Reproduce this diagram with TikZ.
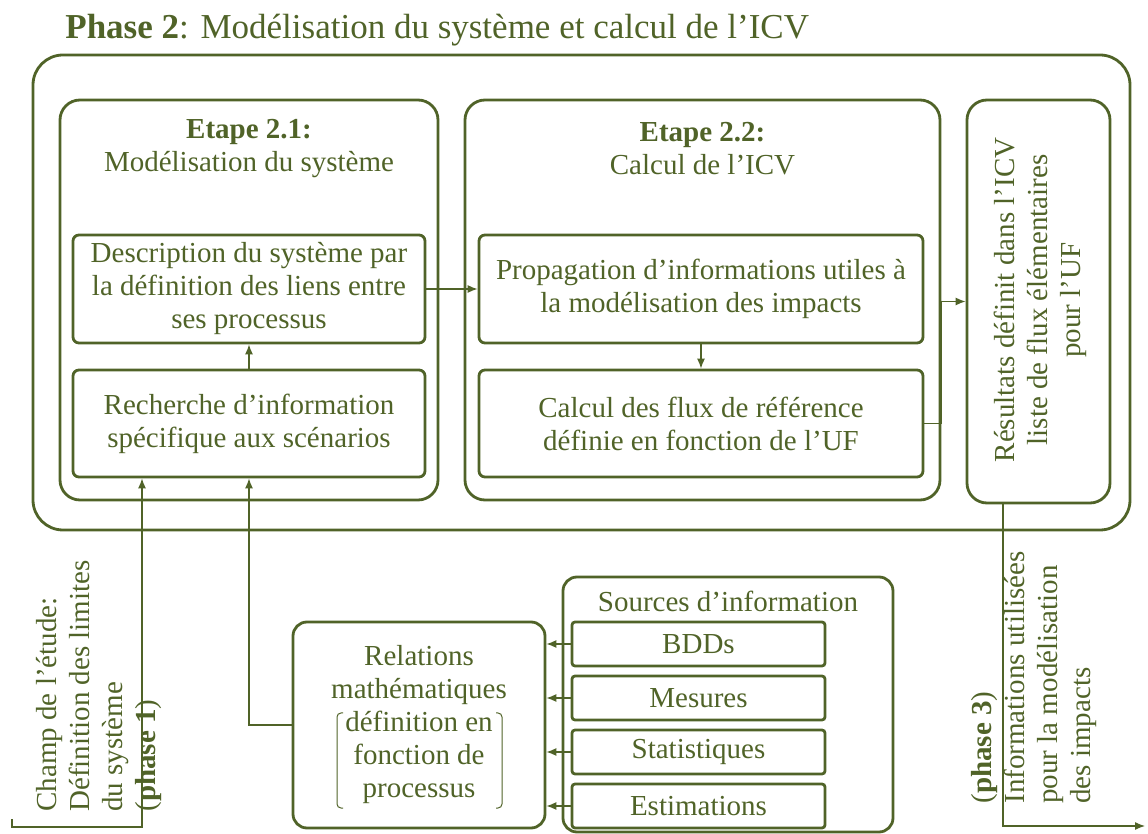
\documentclass[tikz,border=0pt]{standalone}
\usepackage{fontspec}
\setmainfont{Liberation Serif}
\usetikzlibrary{positioning,arrows.meta,calc}
\definecolor{phasegreen}{RGB}{80,99,40}
\newcommand{\boxsize}{\fontsize{14.5}{16.5}\selectfont}

\begin{document}
\begin{tikzpicture}[x=0.5pt,y=-0.5pt,
	box/.style={draw=phasegreen, line width=1.4pt, text=phasegreen, align=center, inner sep=0pt, font=\boxsize},
	bigbox/.style={box, rounded corners=10pt},
	smallbox/.style={box, rounded corners=3pt},
	srcbox/.style={box, rounded corners=1.5pt, minimum width=126.5pt, minimum height=22pt},
	label/.style={text=phasegreen, align=center, inner sep=0pt, font=\boxsize},
	arr/.style={draw=phasegreen, line width=0.6pt, -{Latex[length=5pt,width=4pt]}},
	bracket/.style={draw=phasegreen, line width=0.5pt, rounded corners=2pt}]
	\useasboundingbox (0,0) rectangle (1148,834);
	\node[label, anchor=base west, font=\fontsize{17.5}{20}\selectfont] (title) at (65,39) {\textbf{Phase 2}: Modélisation du système et calcul de l’ICV};
	\node[box, rounded corners=15pt, minimum width=548.5pt, minimum height=237.5pt] (phase) at (581.5,292.5) {};
	\node[bigbox, minimum width=189pt, minimum height=200pt] (etapeA) at (249,300) {};
	\node[label] (etapeAtitle) at (249,149) {\textbf{Etape 2.1:}\\Modélisation du système};
	\node[smallbox, minimum width=176pt, minimum height=54pt] (desc) at (249,289) {Description du système par\\la définition des liens entre\\ses processus};
	\node[smallbox, minimum width=176pt, minimum height=53.5pt] (rech) at (249,423.5) {Recherche d’information\\spécifique aux scénarios};
	\node[bigbox, minimum width=237.5pt, minimum height=200pt] (etapeB) at (702.5,300) {};
	\node[label] (etapeBtitle) at (702.5,149) {\textbf{Etape 2.2:}\\Calcul de l’ICV};
	\node[smallbox, minimum width=222pt, minimum height=54pt] (prop) at (701,289) {Propagation d’informations utiles à\\la modélisation des impacts};
	\node[smallbox, minimum width=222pt, minimum height=53.5pt] (flux) at (701,423.5) {Calcul des flux de référence\\définie en fonction de l’UF};
	\node[bigbox, minimum width=71.5pt, minimum height=201.5pt] (res) at (1038.5,301.5) {};
	\node[label, rotate=90] (restext) at (1040,300) {Résultats définit dans l’ICV\\liste de flux élémentaires\\pour l’UF};
	\node[box, rounded corners=7pt, minimum width=126pt, minimum height=103pt] (rel) at (419,725) {Relations\\mathématiques\\définition en\\fonction de\\processus};
	\draw[bracket] (343,713) -- (337,713) -- (337,808) -- (343,808);
	\draw[bracket] (496,713) -- (502,713) -- (502,808) -- (496,808);
	\node[box, rounded corners=7pt, minimum width=165pt, minimum height=127.5pt] (src) at (728,704.5) {};
	\node[label] (srctitle) at (728,601) {Sources d’information};
	\node[srcbox] (bdd) at (698.5,644) {BDDs};
	\node[srcbox] (mes) at (698.5,698) {Mesures};
	\node[srcbox] (stat) at (698.5,752) {Statistiques};
	\node[srcbox] (est) at (698.5,806) {Estimations};
	\node[label, rotate=90, anchor=west, align=left] (ph1text) at (99,812) {Champ de l’étude:\\Définition des limites\\du système\\(\textbf{phase 1})};
	\node[label, rotate=90, anchor=west, align=left] (ph3text) at (1034,804) {(\textbf{phase 3})\\Informations utilisées\\pour la modélisation\\des impacts};
	\coordinate (ph1) at (12,819);
	\coordinate (ph3) at (1145,826);
	\draw[arr] (rech) -- (desc);
	\draw[arr] (desc) -- (prop);
	\draw[arr] (prop) -- (flux);
	\draw[arr] (flux.east) -- ++(17,0) |- (res.west);
	\draw[arr] ([xshift=-17.75pt]res.south) |- (ph3);
	\draw[arr] (ph1) -- ++(0,8) -| ([xshift=-53.5pt]rech.south);
	\draw[arr] (rel.west) -| (rech.south);
	\draw[arr] (bdd.west) -- (bdd.west -| rel.east);
	\draw[arr] (mes.west) -- (mes.west -| rel.east);
	\draw[arr] (stat.west) -- (stat.west -| rel.east);
	\draw[arr] (est.west) -- (est.west -| rel.east);
\end{tikzpicture}
\end{document}
